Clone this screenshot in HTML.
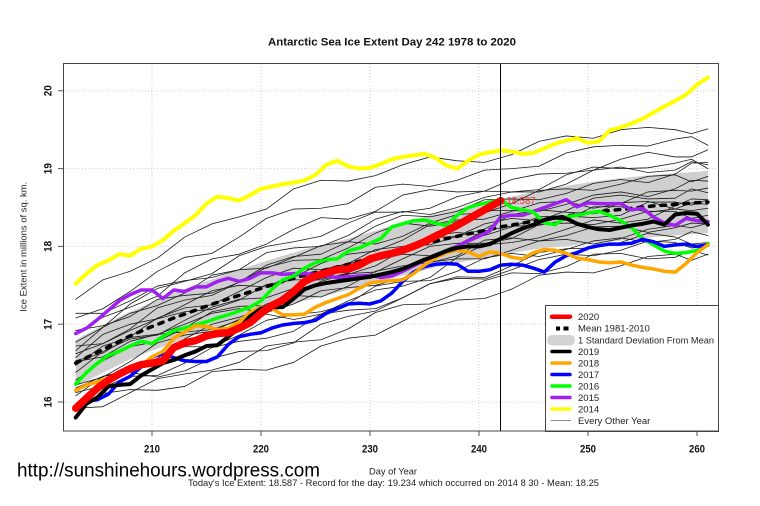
<!DOCTYPE html>
<html><head><meta charset="utf-8"><style>
html,body{margin:0;padding:0;background:#fff;}
svg{display:block;}
polyline{vector-effect:non-scaling-stroke;fill:none;stroke-linejoin:round;stroke-linecap:round;}
text{font-family:"Liberation Sans",Arial,sans-serif;}
</style></head><body>
<svg width="760" height="506" viewBox="0 0 760 506" xmlns="http://www.w3.org/2000/svg">
<rect width="760" height="506" fill="#fff"/>
<defs><clipPath id="pc"><rect x="64" y="64" width="654" height="367"/></clipPath></defs>

<text x="392" y="45.5" font-size="11" font-weight="bold" text-anchor="middle" textLength="248" lengthAdjust="spacingAndGlyphs" fill="#111">Antarctic Sea Ice Extent Day 242 1978 to 2020</text>

<!-- grid -->
<g stroke="#cfcfcf" stroke-width="1" stroke-dasharray="1 2">
<line x1="152" y1="64" x2="152" y2="431"/><line x1="261" y1="64" x2="261" y2="431"/><line x1="370" y1="64" x2="370" y2="431"/><line x1="479" y1="64" x2="479" y2="431"/><line x1="588" y1="64" x2="588" y2="431"/><line x1="697" y1="64" x2="697" y2="431"/>
<line x1="64" y1="402" x2="718" y2="402"/><line x1="64" y1="324.2" x2="718" y2="324.2"/><line x1="64" y1="246.4" x2="718" y2="246.4"/><line x1="64" y1="168.6" x2="718" y2="168.6"/><line x1="64" y1="90.8" x2="718" y2="90.8"/>
</g>

<g clip-path="url(#pc)">
<g transform="matrix(10.9,0,0,-77.8,-2137,1646.8)">
<polygon fill="#cfcfcf" stroke="none" points="203,16.8 205,16.95 208,17.16 210,17.28 212,17.4 214,17.5 216,17.6 218,17.7 220,17.79 222,17.88 224,17.96 226,18.03 228,18.1 230,18.18 232,18.27 234,18.34 236,18.42 238,18.48 240,18.55 242,18.61 244,18.67 246,18.73 248,18.78 250,18.82 252,18.86 254,18.89 256,18.92 258,18.94 260,18.96 261,18.97 261,18.17 260,18.16 258,18.14 256,18.12 254,18.09 252,18.06 250,18.04 248,18 246,17.98 244,17.94 242,17.89 240,17.84 238,17.79 236,17.73 234,17.66 232,17.59 230,17.51 228,17.44 226,17.37 224,17.3 222,17.22 220,17.13 218,17.04 216,16.96 214,16.86 212,16.76 210,16.66 208,16.55 205,16.34 203,16.2"/>
<g stroke="#1a1a1a" stroke-width="0.8">
<polyline points="203,17.32 205.5,17.57 208,17.68 210.5,17.85 213,18.12 215.5,18.29 218,18.38 220.5,18.48 223,18.74 225.5,18.85 228,18.84 230.5,18.91 233,19.05 235.5,19.15 238,19.1 240.5,19.08 243,19.18 245.5,19.35 248,19.42 250.5,19.39 253,19.5 255.5,19.53 258,19.5 259.5,19.45 261,19.51"/>
<polyline points="203,17.08 205.5,17.2 208,17.42 210.5,17.68 213,17.86 215.5,17.91 218,18.12 220.5,18.36 223,18.48 225.5,18.49 228,18.55 230.5,18.76 233,18.8 235.5,18.77 238,18.85 240.5,18.98 243,19.0 245.5,19.03 248,19.2 250.5,19.28 253,19.3 255.5,19.29 258,19.38 259.5,19.41 261,19.3"/>
<polyline points="203,16.88 205.5,17.09 208,17.22 210.5,17.36 213,17.66 215.5,17.84 218,17.9 220.5,18.03 223,18.22 225.5,18.37 228,18.35 230.5,18.45 233,18.66 235.5,18.73 238,18.7 240.5,18.71 243,18.86 245.5,18.93 248,18.94 250.5,18.98 253,19.12 255.5,19.21 258,19.15 259.5,19.15 261,19.24"/>
<polyline points="203,17.14 205.5,17.14 208,17.3 210.5,17.49 213,17.56 215.5,17.6 218,17.7 220.5,17.92 223,17.98 225.5,18.0 228,18.14 230.5,18.35 233,18.45 235.5,18.41 238,18.5 240.5,18.63 243,18.7 245.5,18.7 248,18.8 250.5,18.98 253,19.02 255.5,18.95 258,18.98 259.5,19.09 261,19.05"/>
<polyline points="203,16.66 205.5,16.96 208,17.14 210.5,17.24 213,17.4 215.5,17.63 218,17.7 220.5,17.72 223,17.86 225.5,18.01 228,18.06 230.5,18.03 233,18.13 235.5,18.3 238,18.41 240.5,18.43 243,18.55 245.5,18.72 248,18.74 250.5,18.72 253,18.8 255.5,18.9 258,18.92 259.5,18.83 261,18.9"/>
<polyline points="203,16.92 205.5,16.98 208,17.1 210.5,17.32 213,17.37 215.5,17.4 218,17.54 220.5,17.73 223,17.82 225.5,17.83 228,17.98 230.5,18.17 233,18.3 235.5,18.26 238,18.32 240.5,18.46 243,18.46 245.5,18.45 248,18.54 250.5,18.66 253,18.7 255.5,18.64 258,18.74 259.5,18.85 261,18.84"/>
<polyline points="203,16.57 205.5,16.87 208,17.0 210.5,17.07 213,17.25 215.5,17.43 218,17.5 220.5,17.48 223,17.6 225.5,17.78 228,17.9 230.5,17.94 233,18.08 235.5,18.28 238,18.34 240.5,18.35 243,18.45 245.5,18.56 248,18.58 250.5,18.49 253,18.55 255.5,18.7 258,18.72 259.5,18.71 261,18.75"/>
<polyline points="203,16.53 205.5,16.63 208,16.84 210.5,17.08 213,17.21 215.5,17.25 218,17.42 220.5,17.6 223,17.72 225.5,17.7 228,17.78 230.5,17.96 233,18.0 235.5,18.02 238,18.13 240.5,18.29 243,18.36 245.5,18.33 248,18.46 250.5,18.62 253,18.66 255.5,18.61 258,18.62 259.5,18.74 261,18.69"/>
<polyline points="203,16.38 205.5,16.65 208,16.81 210.5,16.86 213,17.05 215.5,17.22 218,17.32 220.5,17.34 223,17.46 225.5,17.69 228,17.78 230.5,17.84 233,17.99 235.5,18.13 238,18.18 240.5,18.14 243,18.25 245.5,18.38 248,18.39 250.5,18.37 253,18.4 255.5,18.57 258,18.57 259.5,18.53 261,18.6"/>
<polyline points="203,16.72 205.5,16.75 208,16.92 210.5,17.07 213,17.16 215.5,17.19 218,17.31 220.5,17.51 223,17.57 225.5,17.57 228,17.66 230.5,17.82 233,17.9 235.5,17.88 238,18.02 240.5,18.2 243,18.26 245.5,18.27 248,18.34 250.5,18.51 253,18.51 255.5,18.44 258,18.48 259.5,18.56 261,18.54"/>
<polyline points="203,16.28 205.5,16.53 208,16.71 210.5,16.78 213,16.95 215.5,17.16 218,17.23 220.5,17.24 223,17.36 225.5,17.55 228,17.65 230.5,17.67 233,17.84 235.5,18.0 238,18.04 240.5,18.04 243,18.1 245.5,18.28 248,18.3 250.5,18.28 253,18.35 255.5,18.45 258,18.45 259.5,18.36 261,18.4"/>
<polyline points="203,16.22 205.5,16.32 208,16.52 210.5,16.76 213,16.86 215.5,16.91 218,17.06 220.5,17.26 223,17.37 225.5,17.35 228,17.49 230.5,17.68 233,17.75 235.5,17.79 238,17.88 240.5,18.08 243,18.11 245.5,18.07 248,18.14 250.5,18.25 253,18.26 255.5,18.18 258,18.24 259.5,18.3 261,18.29"/>
<polyline points="203,16.47 205.5,16.72 208,16.83 210.5,16.87 213,17.0 215.5,17.14 218,17.2 220.5,17.15 223,17.26 225.5,17.43 228,17.47 230.5,17.5 233,17.59 235.5,17.8 238,17.84 240.5,17.84 243,17.95 245.5,18.07 248,18.09 250.5,18.03 253,18.1 255.5,18.22 258,18.27 259.5,18.24 261,18.3"/>
<polyline points="203,16.12 205.5,16.21 208,16.4 210.5,16.6 213,16.71 215.5,16.71 218,16.86 220.5,17.05 223,17.12 225.5,17.16 228,17.26 230.5,17.49 233,17.55 235.5,17.56 238,17.68 240.5,17.85 243,17.91 245.5,17.87 248,17.96 250.5,18.07 253,18.11 255.5,18.05 258,18.09 259.5,18.19 261,18.14"/>
<polyline points="203,15.97 205.5,16.19 208,16.33 210.5,16.34 213,16.5 215.5,16.7 218,16.78 220.5,16.82 223,16.91 225.5,17.13 228,17.18 230.5,17.2 233,17.34 235.5,17.52 238,17.59 240.5,17.58 243,17.7 245.5,17.83 248,17.9 250.5,17.88 253,17.95 255.5,18.07 258,18.05 259.5,17.98 261,18.0"/>
<polyline points="203,15.92 205.5,15.94 208,16.12 210.5,16.3 213,16.36 215.5,16.41 218,16.51 220.5,16.72 223,16.77 225.5,16.8 228,16.94 230.5,17.15 233,17.25 235.5,17.26 238,17.4 240.5,17.56 243,17.66 245.5,17.65 248,17.74 250.5,17.9 253,17.91 255.5,17.84 258,17.86 259.5,17.95 261,17.89"/>
<polyline points="203,15.93 205.5,16.11 208,16.16 210.5,16.15 213,16.2 215.5,16.39 218,16.42 220.5,16.41 223,16.51 225.5,16.72 228,16.82 230.5,16.86 233,17.04 235.5,17.21 238,17.31 240.5,17.33 243,17.45 245.5,17.63 248,17.67 250.5,17.66 253,17.75 255.5,17.87 258,17.9 259.5,17.82 261,17.9"/>
<polyline points="203,16.62 205.5,16.75 208,16.94 210.5,17.21 213,17.31 215.5,17.37 218,17.54 220.5,17.76 223,17.87 225.5,17.9 228,18.06 230.5,18.26 233,18.4 235.5,18.38 238,18.45 240.5,18.6 243,18.61 245.5,18.6 248,18.68 250.5,18.81 253,18.86 255.5,18.82 258,18.93 259.5,19.07 261,19.08"/>
<polyline points="203,16.08 205.5,16.33 208,16.42 210.5,16.56 213,16.81 215.5,17.0 218,17.09 220.5,17.21 223,17.47 225.5,17.59 228,17.64 230.5,17.75 233,17.95 235.5,18.11 238,18.13 240.5,18.22 243,18.41 245.5,18.47 248,18.44 250.5,18.42 253,18.56 255.5,18.58 258,18.48 259.5,18.46 261,18.49"/>
<polyline points="203,16.77 205.5,16.96 208,17.26 210.5,17.46 213,17.55 215.5,17.65 218,17.88 220.5,18.0 223,18.06 225.5,18.13 228,18.3 230.5,18.44 233,18.44 235.5,18.49 238,18.64 240.5,18.71 243,18.7 245.5,18.73 248,18.92 250.5,19.02 253,19.0 255.5,19.01 258,19.07 259.5,19.12 261,19.0"/>
<polyline points="203,16.18 205.5,16.33 208,16.38 210.5,16.32 213,16.4 215.5,16.56 218,16.65 220.5,16.66 223,16.76 225.5,17.0 228,17.1 230.5,17.17 233,17.34 235.5,17.52 238,17.61 240.5,17.6 243,17.75 245.5,17.92 248,17.97 250.5,17.98 253,18.05 255.5,18.17 258,18.12 259.5,18.03 261,18.05"/>
<polyline points="203,16.52 205.5,16.58 208,16.78 210.5,16.87 213,16.9 215.5,16.93 218,17.05 220.5,17.13 223,17.06 225.5,17.13 228,17.3 230.5,17.44 233,17.49 235.5,17.6 238,17.86 240.5,18.02 243,18.05 245.5,18.11 248,18.22 250.5,18.34 253,18.3 255.5,18.35 258,18.52 259.5,18.61 261,18.6"/>
</g>
</g>

<!-- mean dotted (screen coords) -->
<polyline style="vector-effect:none" stroke="#000" stroke-width="3.5" stroke-linecap="butt" stroke-dasharray="4.5 7" points="75.7,363.1 97.5,352.2 130.2,335.9 152,326.5 173.8,318 195.6,310.2 217.4,302.4 239.2,295.4 261,288.4 282.8,281.4 304.6,275.2 326.4,269.7 348.2,264.3 370,258.1 391.8,251.9 413.6,246.4 435.4,241 457.2,236.3 479,231.6 500.8,226.9 522.6,223.1 544.4,219.2 566.2,216.1 588,212.9 609.8,210.6 631.6,208.3 653.4,205.9 675.2,204.4 697,202.8 707.9,202.1"/>

<g transform="matrix(10.9,0,0,-77.8,-2137,1646.8)">
<!-- 2014 yellow -->
<polyline stroke="#ffff00" stroke-width="4" points="203,17.52 204,17.65 205,17.76 206,17.82 207,17.9 208,17.88 209,17.97 210,18.0 211,18.08 212,18.2 213,18.3 214,18.4 215,18.55 216,18.64 217,18.62 218,18.59 219,18.66 220,18.74 221,18.77 222,18.8 223,18.82 224,18.85 225,18.92 226,19.05 227,19.1 228,19.03 229,19.0 230,19.01 231,19.06 232,19.12 233,19.15 234,19.17 235,19.19 236,19.14 237,19.04 238,19.0 239,19.1 240,19.18 241,19.21 242,19.234 243,19.22 244,19.19 245,19.2 246,19.26 247,19.32 248,19.36 249,19.39 250,19.33 251,19.35 252,19.49 253,19.53 254,19.58 255,19.64 256,19.72 257,19.8 258,19.87 259,19.95 260,20.08 261,20.17"/>
<!-- 2015 purple -->
<polyline stroke="#a020f0" stroke-width="3.5" points="203,16.88 204,16.95 205,17.06 206,17.18 207,17.3 208,17.38 209,17.44 210,17.44 211,17.33 212,17.44 213,17.42 214,17.48 215,17.48 216,17.55 217,17.59 218,17.55 219,17.59 220,17.66 221,17.66 222,17.64 223,17.65 224,17.65 225,17.64 226,17.62 227,17.6 228,17.61 229,17.62 230,17.63 231,17.6 232,17.62 233,17.68 234,17.75 235,17.82 236,17.88 237,17.93 238,18.0 239,18.07 240,18.13 241,18.2 242,18.38 243,18.4 244,18.4 245,18.45 246,18.5 247,18.55 248,18.6 249,18.51 250,18.56 251,18.55 252,18.55 253,18.55 254,18.47 255,18.49 256,18.38 257,18.3 258,18.27 259,18.36 260,18.33 261,18.32"/>
<!-- 2016 green -->
<polyline stroke="#00ff00" stroke-width="3.5" points="203,16.23 204,16.38 205,16.5 206,16.6 207,16.65 208,16.72 209,16.78 210,16.75 211,16.84 212,16.92 213,16.95 214,16.99 215,17.03 216,17.08 217,17.12 218,17.17 219,17.22 220,17.3 221,17.45 222,17.57 223,17.62 224,17.72 225,17.79 226,17.83 227,17.84 228,17.94 229,17.98 230,18.04 231,18.1 232,18.25 233,18.29 234,18.33 235,18.34 236,18.3 237,18.27 238,18.4 239,18.5 240,18.54 241,18.57 242,18.6 243,18.5 244,18.47 245,18.44 246,18.3 247,18.28 248,18.38 249,18.4 250,18.43 251,18.45 252,18.4 253,18.33 254,18.24 255,18.1 256,18.02 257,17.94 258,17.91 259,17.92 260,17.95 261,18.04"/>
<!-- 2017 blue -->
<polyline stroke="#0000ff" stroke-width="3.5" points="203,15.94 204,16.01 205,16.03 206,16.1 207,16.26 208,16.33 209,16.45 210,16.58 211,16.62 212,16.57 213,16.53 214,16.52 215,16.52 216,16.58 217,16.74 218,16.84 219,16.87 220,16.89 221,16.95 222,16.99 223,17.01 224,17.02 225,17.05 226,17.14 227,17.2 228,17.26 229,17.27 230,17.26 231,17.3 232,17.4 233,17.55 234,17.67 235,17.74 236,17.77 237,17.78 238,17.77 239,17.68 240,17.68 241,17.7 242,17.76 243,17.77 244,17.76 245,17.72 246,17.67 247,17.8 248,17.88 249,17.92 250,17.98 251,18.01 252,18.03 253,18.03 254,18.04 255,18.09 256,18.06 257,18.0 258,18.02 259,18.03 260,18.0 261,18.02"/>
<!-- 2018 orange -->
<polyline stroke="#ffa500" stroke-width="3.5" points="203,16.15 204,16.22 205,16.26 206,16.31 207,16.35 208,16.4 209,16.47 210,16.58 211,16.65 212,16.82 213,16.9 214,16.98 215,16.97 216,16.93 217,16.95 218,17.03 219,17.15 220,17.22 221,17.2 222,17.12 223,17.12 224,17.13 225,17.22 226,17.28 227,17.33 228,17.38 229,17.46 230,17.53 231,17.55 232,17.56 233,17.57 234,17.65 235,17.76 236,17.85 237,17.92 238,17.95 239,17.93 240,17.87 241,17.93 242,17.91 243,17.86 244,17.84 245,17.92 246,17.96 247,17.95 248,17.91 249,17.85 250,17.83 251,17.8 252,17.79 253,17.8 254,17.76 255,17.73 256,17.71 257,17.68 258,17.67 259,17.78 260,17.92 261,18.02"/>
<!-- 2019 black -->
<polyline stroke="#000" stroke-width="4" points="203,15.8 204,15.98 205,16.06 206,16.2 207,16.22 208,16.23 209,16.34 210,16.42 211,16.5 212,16.54 213,16.6 214,16.65 215,16.72 216,16.73 217,16.84 218,16.95 219,17.1 220,17.2 221,17.22 222,17.22 223,17.33 224,17.45 225,17.5 226,17.53 227,17.55 228,17.57 229,17.59 230,17.61 231,17.64 232,17.67 233,17.71 234,17.77 235,17.83 236,17.88 237,17.94 238,17.98 239,18.0 240,18.0 241,18.03 242,18.1 243,18.17 244,18.23 245,18.28 246,18.34 247,18.37 248,18.36 249,18.29 250,18.25 251,18.22 252,18.21 253,18.24 254,18.27 255,18.29 256,18.32 257,18.28 258,18.41 259,18.43 260,18.42 261,18.28"/>
<!-- 2020 red -->
<polyline stroke="#ff0000" stroke-width="7.5" points="203,15.92 204,16.05 205,16.18 206,16.28 207,16.36 208,16.43 209,16.48 210,16.5 211,16.53 212,16.7 213,16.76 214,16.79 215,16.85 216,16.88 217,16.89 218,16.95 219,17.02 220,17.14 221,17.24 222,17.31 223,17.42 224,17.55 225,17.62 226,17.66 227,17.7 228,17.71 229,17.76 230,17.84 231,17.88 232,17.91 233,17.95 234,18.0 235,18.06 236,18.13 237,18.2 238,18.27 239,18.35 240,18.43 241,18.51 242,18.587"/>
</g>
</g>

<!-- day 242 line -->
<line x1="500.5" y1="64" x2="500.5" y2="431" stroke="#000" stroke-width="1"/>
<text x="506.5" y="204" font-size="10" fill="#f03030" textLength="29" lengthAdjust="spacingAndGlyphs">18.587</text>

<!-- legend -->
<rect x="545.5" y="305.5" width="173" height="126" fill="#fff" stroke="#444" stroke-width="1"/>
<g stroke-linecap="round">
<line x1="552" y1="316.7" x2="570" y2="316.7" stroke="#ff0000" stroke-width="4.5"/>
<rect x="556" y="326.5" width="4" height="4" fill="#000"/><rect x="563.5" y="326.5" width="5" height="4" fill="#000"/>
<rect x="547" y="335" width="28" height="10.5" rx="5" fill="#d3d3d3"/>
<line x1="552" y1="351.5" x2="570" y2="351.5" stroke="#000" stroke-width="3.5"/>
<line x1="552" y1="363" x2="570" y2="363" stroke="#ffa500" stroke-width="3.5"/>
<line x1="552" y1="374.5" x2="570" y2="374.5" stroke="#0000ff" stroke-width="3.5"/>
<line x1="552" y1="386" x2="570" y2="386" stroke="#00ff00" stroke-width="3.5"/>
<line x1="552" y1="397.5" x2="570" y2="397.5" stroke="#a020f0" stroke-width="3.5"/>
<line x1="552" y1="409" x2="570" y2="409" stroke="#ffff00" stroke-width="3.5"/>
<line x1="551" y1="420.5" x2="571" y2="420.5" stroke="#888" stroke-width="1" stroke-linecap="butt"/>
</g>
<g font-size="9.5" fill="#222">
<text x="578" y="320">2020</text>
<text x="578" y="331.7">Mean 1981-2010</text>
<text x="578" y="343.4" textLength="136" lengthAdjust="spacingAndGlyphs">1 Standard Deviation From Mean</text>
<text x="578" y="354.9">2019</text>
<text x="578" y="366.4">2018</text>
<text x="578" y="377.9">2017</text>
<text x="578" y="389.4">2016</text>
<text x="578" y="400.9">2015</text>
<text x="578" y="412.4">2014</text>
<text x="578" y="423.9">Every Other Year</text>
</g>

<!-- frame -->
<rect x="63.5" y="63.5" width="655" height="367.5" fill="none" stroke="#444" stroke-width="1"/>

<!-- axes ticks -->
<g stroke="#555" stroke-width="1">
<line x1="152" y1="431" x2="152" y2="436"/><line x1="261" y1="431" x2="261" y2="436"/><line x1="370" y1="431" x2="370" y2="436"/><line x1="479" y1="431" x2="479" y2="436"/><line x1="588" y1="431" x2="588" y2="436"/><line x1="697" y1="431" x2="697" y2="436"/>
<line x1="58" y1="402" x2="63" y2="402"/><line x1="58" y1="324.2" x2="63" y2="324.2"/><line x1="58" y1="246.4" x2="63" y2="246.4"/><line x1="58" y1="168.6" x2="63" y2="168.6"/><line x1="58" y1="90.8" x2="63" y2="90.8"/>
</g>
<g font-size="11" font-weight="bold" fill="#111" text-anchor="middle">
<text x="152" y="452.5" textLength="16" lengthAdjust="spacingAndGlyphs">210</text>
<text x="261" y="452.5" textLength="16" lengthAdjust="spacingAndGlyphs">220</text>
<text x="370" y="452.5" textLength="16" lengthAdjust="spacingAndGlyphs">230</text>
<text x="479" y="452.5" textLength="16" lengthAdjust="spacingAndGlyphs">240</text>
<text x="588" y="452.5" textLength="16" lengthAdjust="spacingAndGlyphs">250</text>
<text x="697" y="452.5" textLength="16" lengthAdjust="spacingAndGlyphs">260</text>
<text transform="translate(51.5,402) rotate(-90)" textLength="11" lengthAdjust="spacingAndGlyphs">16</text>
<text transform="translate(51.5,324.2) rotate(-90)" textLength="11" lengthAdjust="spacingAndGlyphs">17</text>
<text transform="translate(51.5,246.4) rotate(-90)" textLength="11" lengthAdjust="spacingAndGlyphs">18</text>
<text transform="translate(51.5,168.6) rotate(-90)" textLength="11" lengthAdjust="spacingAndGlyphs">19</text>
<text transform="translate(51.5,90.8) rotate(-90)" textLength="11" lengthAdjust="spacingAndGlyphs">20</text>
</g>
<text transform="translate(26.5,246.7) rotate(-90)" font-size="9.5" fill="#222" text-anchor="middle" textLength="130" lengthAdjust="spacingAndGlyphs">Ice Extent in millions of sq. km.</text>

<text x="393" y="474.5" font-size="9.5" fill="#222" text-anchor="middle" textLength="48" lengthAdjust="spacingAndGlyphs">Day of Year</text>
<text x="393.5" y="486" font-size="9.5" fill="#222" text-anchor="middle" textLength="411" lengthAdjust="spacingAndGlyphs">Today's Ice Extent: 18.587  - Record for the day: 19.234 which occurred on 2014 8 30  - Mean: 18.25</text>
<text x="17" y="476.5" font-size="19" fill="#000" textLength="303" lengthAdjust="spacingAndGlyphs">http://sunshinehours.wordpress.com</text>
</svg>
</body></html>
